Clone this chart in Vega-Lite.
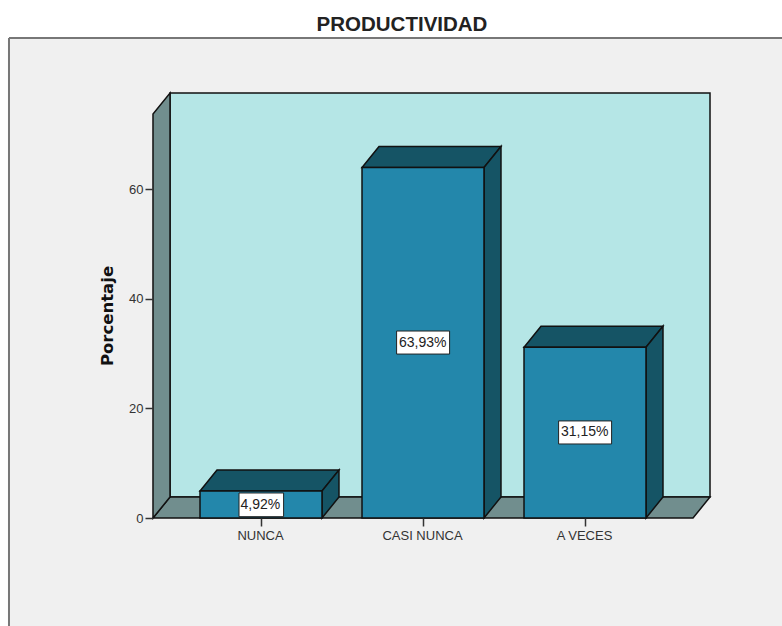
{
"$schema":"https://vega.github.io/schema/vega-lite/v6.json",
"width":782,"height":626,"autosize":"none","padding":0,"background":"white",
"title":{"text":"PRODUCTIVIDAD","font":"Liberation Sans","fontSize":20.5,"fontWeight":"bold","color":"#222","anchor":"middle","dx":11,"dy":55,"offset":0,"baseline":"bottom"},
"config":{"view":{"stroke":null}},
"datasets":{
"panel":[{"x":-0.5556,"x2":4.216,"y":87.54,"y2":-19.697}],
"borde":[{"x":-0.5556,"x2":4.216,"y":87.54,"y2":87.54},{"x":-0.5556,"x2":-0.5556,"y":87.54,"y2":-19.697}],
"pared":[{"x":0.4383,"x2":3.7716,"y":77.51,"y2":3.83}],
"horizontales":[
{"id":"suelo","parte":"Suelo","x":0.3333,"x2":3.6667,"y":0},{"id":"suelo","parte":"Suelo","x":0.4383,"x2":3.7716,"y":3.83},
{"id":"t1","parte":"Sombra","x":0.6235,"x2":1.3765,"y":4.92},{"id":"t1","parte":"Sombra","x":0.7284,"x2":1.4814,"y":8.75},
{"id":"t2","parte":"Sombra","x":1.6235,"x2":2.3765,"y":63.93},{"id":"t2","parte":"Sombra","x":1.7284,"x2":2.4814,"y":67.76},
{"id":"t3","parte":"Sombra","x":2.6235,"x2":3.3765,"y":31.15},{"id":"t3","parte":"Sombra","x":2.7284,"x2":3.4814,"y":34.98}],
"verticales":[
{"id":"izq","parte":"Suelo","x":0.3333,"y":0,"y2":73.68},{"id":"izq","parte":"Suelo","x":0.4383,"y":3.83,"y2":77.51},
{"id":"s1","parte":"Sombra","x":1.3765,"y":0,"y2":4.92},{"id":"s1","parte":"Sombra","x":1.4814,"y":3.83,"y2":8.75},
{"id":"s2","parte":"Sombra","x":2.3765,"y":0,"y2":63.93},{"id":"s2","parte":"Sombra","x":2.4814,"y":3.83,"y2":67.76},
{"id":"s3","parte":"Sombra","x":3.3765,"y":0,"y2":31.15},{"id":"s3","parte":"Sombra","x":3.4814,"y":3.83,"y2":34.98}],
"barras":[
{"categoria":"NUNCA","x":0.6235,"x2":1.3765,"y":4.92,"y2":0},
{"categoria":"CASI NUNCA","x":1.6235,"x2":2.3765,"y":63.93,"y2":0},
{"categoria":"A VECES","x":2.6235,"x2":3.3765,"y":31.15,"y2":0}],
"cajas":[
{"x":0.8642,"x2":1.1395,"y":4.56,"y2":0.24},
{"x":1.8370,"x2":2.1642,"y":34.1,"y2":29.9},
{"x":2.8370,"x2":3.1642,"y":17.7,"y2":13.5}],
"etiquetas":[
{"x":0.996,"y":2.4,"texto":"4,92%"},
{"x":1.998,"y":32.0,"texto":"63,93%"},
{"x":2.998,"y":15.6,"texto":"31,15%"}]
},
"encoding":{
"x":{"field":"x","type":"quantitative","title":null,"scale":{"domain":[-0.6111,4.216],"nice":false,"zero":false},
"axis":{"values":[1,2,3],"labelExpr":"datum.value==1?'NUNCA':datum.value==2?'CASI NUNCA':'A VECES'","grid":false,"domain":false,"offset":-108,"tickSize":8,"tickWidth":1.5,"tickColor":"#333","labelFont":"Liberation Sans","labelFontSize":13,"labelColor":"#333","labelPadding":3,"labelOffset":-1,"zindex":1,"labelOverlap":false}},
"y":{"field":"y","type":"quantitative","title":"Porcentaje","scale":{"domain":[-19.697,94.474],"nice":false,"zero":false},
"axis":{"values":[0,20,40,60],"grid":false,"domain":false,"offset":-153,"tickSize":8,"tickWidth":1.5,"tickColor":"#333","labelFont":"Liberation Sans","labelFontSize":13,"labelColor":"#333","labelPadding":2,"zindex":1,"titleFont":"DejaVu Sans","titleFontSize":16.5,"titleFontWeight":"bold","titleColor":"#111","titleX":-38,"titleY":315.5,"titleAlign":"center","titleBaseline":"bottom"}}
},
"layer":[
{"data":{"name":"panel"},"mark":{"type":"rect","fill":"#f0f0f0"},"encoding":{"x2":{"field":"x2"},"y2":{"field":"y2"}}},
{"data":{"name":"borde"},"mark":{"type":"rule","stroke":"#777","strokeWidth":2},"encoding":{"x2":{"field":"x2"},"y2":{"field":"y2"}}},
{"data":{"name":"pared"},"mark":{"type":"rect","fill":"#b5e6e6","stroke":"#111","strokeWidth":1.5},"encoding":{"x2":{"field":"x2"},"y2":{"field":"y2"}}},
{"data":{"name":"horizontales"},"mark":{"type":"area","orient":"horizontal","stroke":"#111","strokeWidth":1.5,"opacity":1},"encoding":{"x2":{"field":"x2"},"detail":{"field":"id"},"fill":{"field":"parte","type":"nominal","legend":null,"scale":{"domain":["Suelo","Sombra"],"range":["#718e8e","#155465"]}}}},
{"data":{"name":"verticales"},"mark":{"type":"area","orient":"vertical","stroke":"#111","strokeWidth":1.5,"opacity":1},"encoding":{"y2":{"field":"y2"},"detail":{"field":"id"},"fill":{"field":"parte","type":"nominal","legend":null,"scale":{"domain":["Suelo","Sombra"],"range":["#718e8e","#155465"]}}}},
{"data":{"name":"barras"},"mark":{"type":"rect","fill":"#2387ab","stroke":"#111","strokeWidth":1.5},"encoding":{"x2":{"field":"x2"},"y2":{"field":"y2"}}},
{"data":{"name":"cajas"},"mark":{"type":"rect","fill":"white","stroke":"#222","strokeWidth":1},"encoding":{"x2":{"field":"x2"},"y2":{"field":"y2"}}},
{"data":{"name":"etiquetas"},"mark":{"type":"text","font":"Liberation Sans","fontSize":14,"fill":"#222","align":"center","baseline":"middle"},"encoding":{"text":{"field":"texto"}}}
]
}
